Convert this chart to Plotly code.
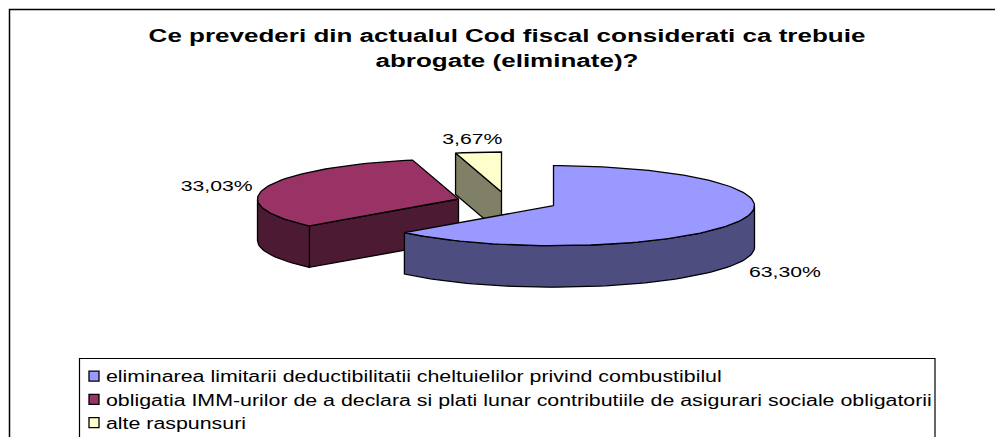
import math
import plotly.graph_objects as go

# ---- data ----
categories = [
    "eliminarea limitarii deductibilitatii cheltuielilor privind combustibilul",
    "obligatia IMM-urilor de a declara si plati lunar contributiile de asigurari sociale obligatorii",
    "alte raspunsuri",
]
values = [63.30, 33.03, 3.67]
value_labels = ["63,30%", "33,03%", "3,67%"]
title_text = "<b>Ce prevederi din actualul Cod fiscal considerati ca trebuie<br>abrogate (eliminate)?</b>"

# ---- styling / layout constants ----
top_colors = ["#9999FF", "#993366", "#FFFFCC"]
side_colors = ["#4D4D80", "#4D1A33", "#808066"]
slice_centers = [(553.5, 205.7), (458.5, 199.0), (501.5, 192.0)]  # exploded slice apexes
label_nudge = [5, 3, -2]  # vertical fine-tuning of the value labels, px
RX, RY, DEPTH = 201.0, 40.0, 41.5
LABEL_K = 1.26
W, H = 995, 437
INK = "#000000"
TEXT_STRETCH = 1.37  # the reference's text is horizontally stretched
LEGEND_TOP = 349     # laid out higher so it does not push the margins
LEGEND_SHIFT = 10.5  # then moved down to its place


def pt(c, deg, k=1.0, dz=0.0):
    a = math.radians(deg)
    return c[0] + k * RX * math.sin(a), c[1] - k * RY * math.cos(a) + dz


def arc(c, a0, a1, dz=0.0):
    n = max(2, int(abs(a1 - a0) / 2))
    return [pt(c, a0 + (a1 - a0) * i / n, dz=dz) for i in range(n + 1)]


def poly(points, fill):
    xs = [p[0] for p in points] + [points[0][0]]
    ys = [p[1] for p in points] + [points[0][1]]
    return go.Scatter(x=xs, y=ys, mode="lines", fill="toself", fillcolor=fill,
                      line=dict(color=INK, width=1.3), hoverinfo="skip", showlegend=False)


total = sum(values)
spans = []
start = 0.0
for v in values:
    spans.append((start, start + v / total * 360))
    start += v / total * 360

fig = go.Figure()

# draw back to front: third slice, second slice, first slice
for i in [2, 1, 0]:
    c = slice_centers[i]
    a0, a1 = spans[i]
    # radial cut faces, only those turned toward the viewer
    for ang, normal in ((a0, a0 - 90), (a1, a1 + 90)):
        if math.cos(math.radians(normal)) < -1e-6:
            p = pt(c, ang)
            fig.add_trace(poly([c, p, (p[0], p[1] + DEPTH), (c[0], c[1] + DEPTH)], side_colors[i]))
    # outer wall: the part of the rim facing the viewer (90..270 degrees)
    w0, w1 = max(a0, 90), min(a1, 270)
    if w1 > w0:
        upper = arc(c, w0, w1)
        lower = arc(c, w1, w0, dz=DEPTH)
        fig.add_trace(poly(upper + lower, side_colors[i]))
    # top face
    fig.add_trace(poly([c] + arc(c, a0, a1), top_colors[i]))

# value labels, placed from each slice's mid angle
for i, lab in enumerate(value_labels):
    a0, a1 = spans[i]
    mid = (a0 + a1) / 2
    dz = (DEPTH if 90 < mid < 270 else 0) + label_nudge[i]
    x, y = pt(slice_centers[i], mid, k=LABEL_K, dz=dz)
    fig.add_trace(go.Scatter(x=[x], y=[y], mode="text", text=[lab], textposition="middle center",
                             textfont=dict(family="Liberation Sans", size=15.5, color=INK),
                             hoverinfo="skip", showlegend=False))

# legend entries
for i, name in enumerate(categories):
    fig.add_trace(go.Scatter(x=[None], y=[None], mode="markers", name=name, legendgroup=name,
                             marker=dict(symbol="square", size=10, color=top_colors[i],
                                         line=dict(color=INK, width=1.3))))

fig.update_layout(
    width=W, height=H,
    margin=dict(l=0, r=0, t=0, b=0),
    paper_bgcolor="white", plot_bgcolor="white",
    xaxis=dict(range=[0, W], visible=False, fixedrange=True),
    yaxis=dict(range=[H, 0], visible=False, fixedrange=True),
    title=dict(text=title_text, x=507 / W, xanchor="center", y=1 - 42 / H, yanchor="top",
               font=dict(family="Liberation Sans", size=19, color=INK)),
    legend=dict(x=66 / W, xanchor="left", y=1 - LEGEND_TOP / H, yanchor="top", bgcolor="rgba(0,0,0,0)",
                font=dict(family="Liberation Sans", size=15.6, color=INK),
                tracegroupgap=2.5, traceorder="normal", itemclick=False, itemdoubleclick=False),
    shapes=[
        dict(type="rect", xref="x", yref="y", x0=9.5, y0=9.5, x1=1010, y1=460,
             line=dict(color=INK, width=1.5), layer="below"),
        dict(type="rect", xref="x", yref="y", x0=79.5, y0=358.5, x1=935, y1=460,
             line=dict(color=INK, width=1.2), layer="below"),
    ],
)

post_script = """
document.body.style.margin = '0';
var s = %s;
document.querySelectorAll('.legend').forEach(function (g) {
  g.setAttribute('transform', ((g.getAttribute('transform') || '') + ' translate(0,%s)').trim());
});
document.querySelectorAll('.legend .scrollbox').forEach(function (g) { g.removeAttribute('clip-path'); });
document.querySelectorAll('.legend .legendsymbols').forEach(function (g) {
  g.setAttribute('transform', ((g.getAttribute('transform') || '') + ' translate(8,0)').trim());
});
document.querySelectorAll('.gtitle, .legendtext, .textpoint text').forEach(function (t) {
  var b = t.getBBox();
  var anchor = getComputedStyle(t).textAnchor;
  var cx = anchor === 'start' ? b.x : b.x + b.width / 2;
  var old = t.getAttribute('transform') || '';
  t.setAttribute('transform', (old + ' translate(' + cx + ',0) scale(' + s + ',1) translate(' + (-cx) + ',0)').trim());
});
""" % (TEXT_STRETCH, LEGEND_SHIFT)

fig.write_html("out.html", config=dict(displayModeBar=False), post_script=post_script)
